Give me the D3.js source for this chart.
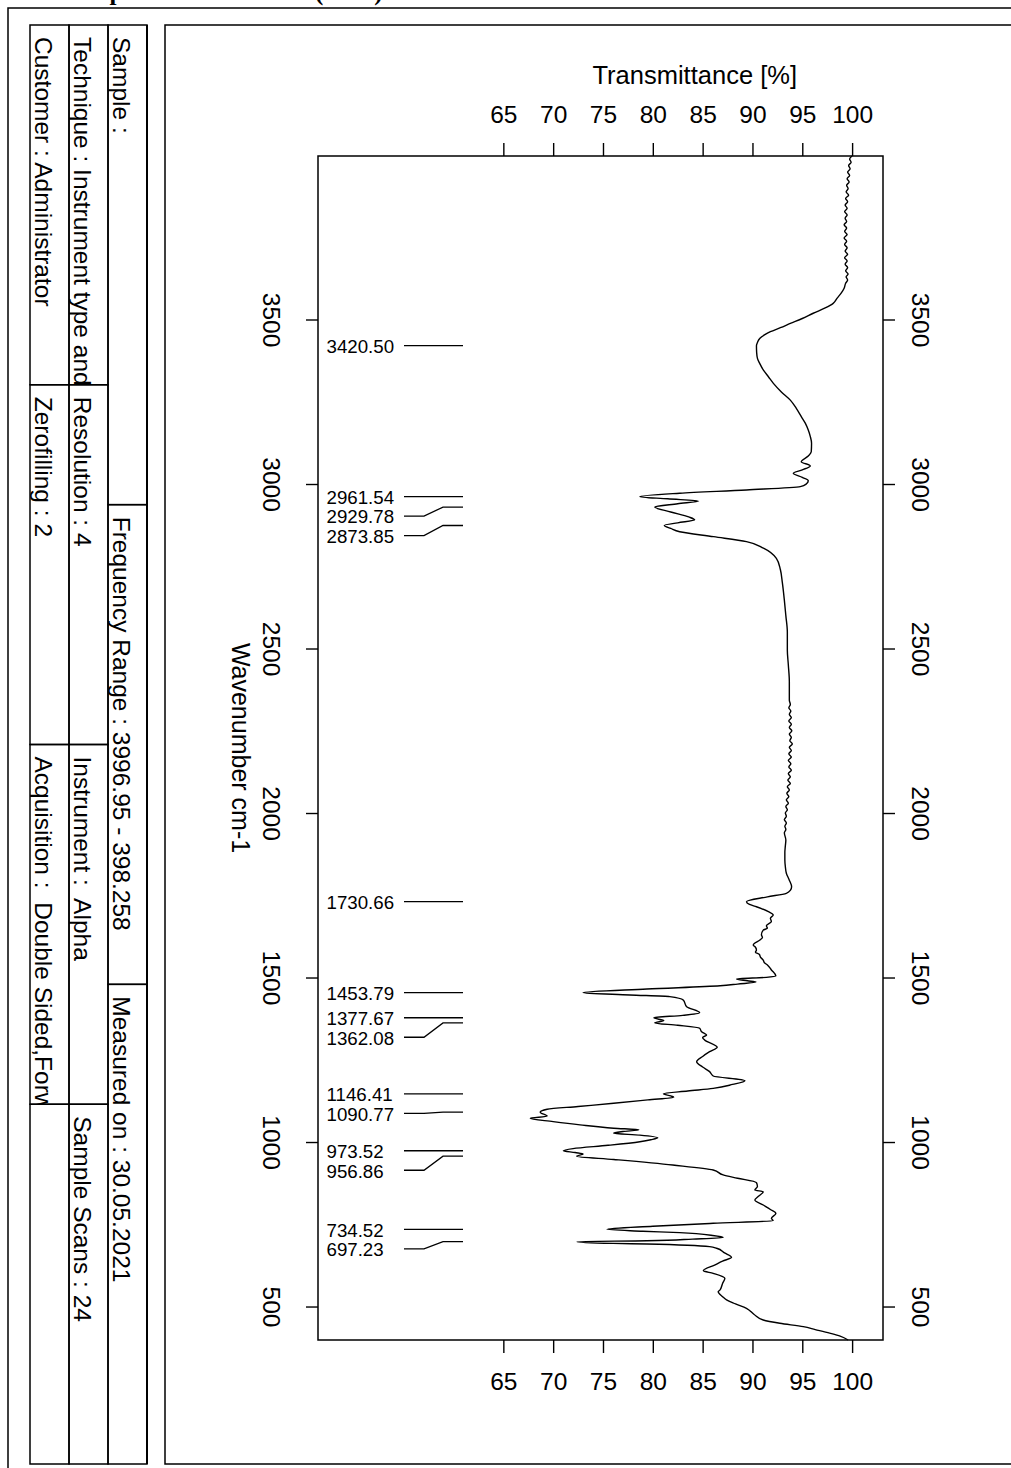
<!DOCTYPE html>
<html>
<head>
<meta charset="utf-8">
<script src="https://cdn.jsdelivr.net/npm/d3@7"></script>
<style>
  body { margin: 0; background: #fff; }
  svg { display: block; font-family: "Liberation Sans", Arial, Helvetica, sans-serif; }
</style>
</head>
<body>
<svg id="chart" width="1011" height="1468"></svg>
<script>
// ---- spectrum readings: [wavenumber cm-1, transmittance %] ----
const spectrumReadings = [
  [3996.95, 100.0], [3988, 99.75], [3978, 99.9], [3968, 99.65], [3958, 99.8], [3948, 99.55],
  [3938, 99.75], [3928, 99.5], [3918, 99.7], [3908, 99.45], [3898, 99.6], [3888, 99.4],
  [3878, 99.65], [3868, 99.35], [3858, 99.55], [3848, 99.3], [3838, 99.5], [3828, 99.25],
  [3818, 99.5], [3808, 99.3], [3798, 99.45], [3788, 99.2], [3778, 99.45], [3768, 99.25],
  [3758, 99.5], [3748, 99.2], [3738, 99.45], [3728, 99.25], [3718, 99.5], [3708, 99.3],
  [3698, 99.55], [3688, 99.25], [3678, 99.5], [3668, 99.3], [3658, 99.55], [3648, 99.35],
  [3638, 99.6], [3630, 99.4], [3620, 99.55], [3610, 99.35], [3595, 99.2], [3580, 98.9],
  [3565, 98.5], [3549, 98.1], [3535, 97.3], [3519, 96.1], [3503, 95.0], [3488, 93.8],
  [3475, 92.8], [3463, 91.8], [3453, 91.2], [3443, 90.75], [3430, 90.5], [3420.5, 90.4],
  [3400, 90.42], [3382, 90.5], [3365, 90.75], [3346, 91.1], [3326, 91.6], [3306, 92.1],
  [3280, 92.9], [3255, 93.8], [3230, 94.4], [3205, 94.9], [3185, 95.3], [3164, 95.6],
  [3145, 95.8], [3124, 95.93], [3098, 95.9], [3085, 95.6], [3068, 94.9], [3055, 95.8],
  [3043, 95.0], [3032.5, 94.1], [3020, 95.0], [3010, 95.6], [3000, 95.4], [2992, 94.8],
  [2982, 89.4], [2972, 82.7], [2961.54, 78.7], [2955, 81.5], [2948, 84.6], [2940, 82.5],
  [2929.78, 80.2], [2915, 81.8], [2900, 83.6], [2891, 84.2], [2882, 82.5], [2873.85, 81.15],
  [2865, 81.8], [2855, 82.7], [2840, 86.1], [2825, 89.4], [2805, 91.1], [2774, 92.4],
  [2740, 92.8], [2700, 93.0], [2647, 93.2], [2600, 93.35], [2550, 93.5], [2495, 93.5],
  [2450, 93.6], [2400, 93.7], [2343, 93.7], [2330, 93.8], [2320, 93.65], [2310, 93.85],
  [2300, 93.7], [2290, 93.9], [2280, 93.65], [2270, 93.9], [2260, 93.7], [2250, 93.95],
  [2240, 93.7], [2230, 93.9], [2220, 93.75], [2210, 94.0], [2200, 93.7], [2190, 93.9],
  [2180, 93.65], [2170, 93.9], [2160, 93.6], [2150, 93.85], [2140, 93.65], [2130, 93.9],
  [2120, 93.6], [2110, 93.8], [2100, 93.55], [2090, 93.8], [2080, 93.5], [2070, 93.7],
  [2060, 93.45], [2050, 93.65], [2040, 93.4], [2030, 93.6], [2020, 93.35], [2010, 93.5],
  [2000, 93.3], [1990, 93.4], [1980, 93.2], [1970, 93.4], [1960, 93.25], [1950, 93.35],
  [1940, 93.2], [1918, 93.35], [1900, 93.3], [1880, 93.25], [1857, 93.25], [1837, 93.3],
  [1817, 93.4], [1796, 93.7], [1776, 93.93], [1765, 93.8], [1756, 93.4], [1745, 91.5],
  [1730.66, 89.4], [1722, 89.7], [1715, 90.4], [1700, 91.6], [1690, 92.08], [1680, 91.8],
  [1670, 91.9], [1657, 91.4], [1650, 91.5], [1644, 91.08], [1630, 90.9], [1622, 91.0],
  [1614, 90.75], [1599, 90.08], [1592, 90.3], [1584, 90.4], [1577, 90.3], [1570, 90.7],
  [1562, 90.8], [1553, 91.08], [1545, 91.2], [1538, 91.5], [1523, 91.9], [1504.6, 92.35],
  [1500.5, 91.4], [1495.5, 88.4], [1490, 89.5], [1486, 90.35], [1480, 88.5], [1475, 86.75],
  [1465, 79.4], [1453.79, 73.0], [1447, 77.7], [1442, 81.7], [1431.6, 83.05], [1411, 83.4],
  [1393, 84.7], [1385, 83.0], [1377.67, 80.1], [1369, 81.1], [1362.08, 80.2], [1355, 82.5],
  [1345.6, 84.7], [1335, 84.9], [1325, 85.4], [1318, 85.0], [1310, 85.2], [1288, 86.46],
  [1274.5, 85.7], [1260, 85.0], [1244, 84.4], [1228, 85.0], [1214, 85.7], [1200.6, 86.06],
  [1186.5, 89.24], [1175, 88.0], [1163, 86.06], [1155, 83.5], [1146.41, 81.06], [1140, 81.8],
  [1136, 82.1], [1128, 79.5], [1117.7, 76.07], [1108, 72.5], [1099.5, 69.4], [1090.77, 68.7],
  [1079, 69.4], [1072, 67.7], [1062, 70.0], [1052, 72.7], [1042, 76.07], [1037, 78.6],
  [1032, 77.0], [1027, 76.07], [1021, 78.7], [1013, 80.5], [1007, 79.8], [1001, 78.7],
  [990, 75.5], [980, 72.0], [973.52, 71.02], [968, 72.2], [963.6, 73.0], [956.86, 72.35],
  [947, 76.07], [930, 82.0], [915, 86.06], [900, 87.06], [890, 88.5], [876.5, 90.4],
  [865, 90.5], [854, 90.24], [849, 91.08], [835, 90.6], [824, 90.24], [808.5, 91.08],
  [795, 91.8], [783, 92.35], [768, 91.9], [761, 92.08], [753, 86.06], [744, 80.0],
  [734.52, 75.4], [729, 79.0], [724.5, 82.7], [716, 86.0], [710, 87.06], [705, 84.0],
  [700, 79.4], [697.23, 72.4], [692, 76.0], [690, 79.4], [682, 85.7], [677, 86.4],
  [663, 87.2], [649.5, 87.9], [638, 87.0], [626, 86.2], [609, 85.07], [601, 86.06],
  [585.7, 87.23], [570, 87.0], [550, 86.73], [545, 86.56], [530, 87.0], [520, 87.4],
  [508, 88.3], [494.5, 89.4], [475, 90.2], [459, 91.08], [449, 92.75], [439, 95.1],
  [430, 96.3], [419, 97.75], [410, 98.8], [398.258, 99.6]
];

// picked peaks (cm-1)
const peakWavenumbers = [3420.50, 2961.54, 2929.78, 2873.85, 1730.66, 1453.79, 1377.67, 1362.08,
  1146.41, 1090.77, 973.52, 956.86, 734.52, 697.23];

const transmittanceTicks = [65, 70, 75, 80, 85, 90, 95, 100];
const wavenumberTicks = [3500, 3000, 2500, 2000, 1500, 1000, 500];

// report header columns, drawn left to right, each cell read top to bottom
const infoColumns = [
  ["Customer : Administrator", "Zerofilling : 2", "Acquisition :\u00a0 Double Sided,Forward-Backward", ""],
  ["Technique : Instrument type and / or accessory", "Resolution : 4", "Instrument :\u00a0 Alpha", "Sample Scans : 24"],
  ["Sample :", "Frequency Range : 3996.95 - 398.258", "Measured on : 30.05.2021"]
];
const reportTitle = "Spectrum Overview (ATR)";

// ---------------------------------------------------------------
const svg = d3.select("#chart");
const W = 1011, H = 1468;
svg.append("rect").attr("width", W).attr("height", H).attr("fill", "#fff");

// title (sits at the very top edge of the sheet)
svg.append("text")
  .attr("x", 95.5).attr("y", -0.5)
  .attr("font-family", "'Liberation Serif', 'Times New Roman', serif")
  .attr("font-weight", "bold").attr("font-size", 25)
  .text(reportTitle);

// outer sheet frame
svg.append("path")
  .attr("d", `M8,${H + 2} V8 H${W + 2}`)
  .attr("fill", "none").attr("stroke", "#000").attr("stroke-width", 1.5);

// ---- header table ----
const table = { left: 30, top: 25, colW: 39, bottom: 1464 };
const tg = svg.append("g");
const defs = svg.append("defs");
infoColumns.forEach((cells, ci) => {
  const x0 = table.left + ci * table.colW;
  const rowH = (table.bottom - table.top) / cells.length;
  cells.forEach((txt, ri) => {
    const y0 = table.top + ri * rowH;
    const id = `cell-${ci}-${ri}`;
    defs.append("clipPath").attr("id", id)
      .append("rect").attr("x", x0).attr("y", y0).attr("width", table.colW).attr("height", rowH);
    tg.append("rect")
      .attr("x", x0).attr("y", y0).attr("width", table.colW).attr("height", rowH)
      .attr("fill", "none").attr("stroke", "#000").attr("stroke-width", 1.5);
    if (txt) {
      tg.append("g").attr("clip-path", `url(#${id})`)
        .append("text")
        .attr("transform", `translate(${x0 + 4.5},${y0 + 12}) rotate(90)`)
        .attr("font-size", 24.5)
        .text(txt);
    }
  });
});
tg.append("line")
  .attr("x1", table.left + 3 * table.colW).attr("x2", table.left + 3 * table.colW)
  .attr("y1", table.top).attr("y2", table.bottom)
  .attr("stroke", "#000").attr("stroke-width", 2);

// chart panel
svg.append("path")
  .attr("d", `M${W + 2},25 H165 V1464 H${W + 2}`)
  .attr("fill", "none").attr("stroke", "#000").attr("stroke-width", 1.5);

// ---- plot ----
const plot = { left: 318, right: 883, top: 156, bottom: 1340 };
const x = d3.scaleLinear().domain([46.4, 103.1]).range([plot.left, plot.right]);
const y = d3.scaleLinear().domain([3996.95, 398.258]).range([plot.top, plot.bottom]);

const tickFont = 24.5;

function styleAxis(g) {
  g.select(".domain").remove();
  g.selectAll(".tick line").attr("stroke", "#000").attr("stroke-width", 1.4);
  g.selectAll(".tick text").attr("font-size", tickFont).attr("fill", "#000")
    .attr("font-family", "'Liberation Sans', Arial, sans-serif");
}

// transmittance axes (top and bottom)
const gTop = svg.append("g").attr("transform", `translate(0,${plot.top})`)
  .call(d3.axisTop(x).tickValues(transmittanceTicks).tickSize(13).tickFormat(d3.format("d")));
styleAxis(gTop);
gTop.selectAll(".tick text").attr("y", -33).attr("dy", null);

const gBot = svg.append("g").attr("transform", `translate(0,${plot.bottom})`)
  .call(d3.axisBottom(x).tickValues(transmittanceTicks).tickSize(13).tickFormat(d3.format("d")));
styleAxis(gBot);
gBot.selectAll(".tick text").attr("y", 50).attr("dy", null);

// wavenumber axes (left and right), labels turned a quarter clockwise
const gLeft = svg.append("g").attr("transform", `translate(${plot.left},0)`)
  .call(d3.axisLeft(y).tickValues(wavenumberTicks).tickSize(12).tickFormat(d3.format("d")));
styleAxis(gLeft);
gLeft.selectAll(".tick text")
  .attr("x", null).attr("dy", null).attr("text-anchor", "middle")
  .attr("transform", "translate(-55,0) rotate(90)");

const gRight = svg.append("g").attr("transform", `translate(${plot.right},0)`)
  .call(d3.axisRight(y).tickValues(wavenumberTicks).tickSize(12).tickFormat(d3.format("d")));
styleAxis(gRight);
gRight.selectAll(".tick text")
  .attr("x", null).attr("dy", null).attr("text-anchor", "middle")
  .attr("transform", "translate(29,0) rotate(90)");

// axis titles
svg.append("text")
  .attr("x", (x(65) + x(100)) / 2 + 17).attr("y", 84)
  .attr("text-anchor", "middle").attr("font-size", 25.5)
  .text("Transmittance [%]");
svg.append("text")
  .attr("transform", `translate(232,${(plot.top + plot.bottom) / 2}) rotate(90)`)
  .attr("text-anchor", "middle").attr("font-size", 25)
  .text("Wavenumber cm-1");

// plot frame
svg.append("rect")
  .attr("x", plot.left).attr("y", plot.top)
  .attr("width", plot.right - plot.left).attr("height", plot.bottom - plot.top)
  .attr("fill", "none").attr("stroke", "#000").attr("stroke-width", 1.5);

// spectrum trace
svg.append("path")
  .datum(spectrumReadings)
  .attr("fill", "none").attr("stroke", "#000").attr("stroke-width", 1.4)
  .attr("stroke-linejoin", "round")
  .attr("d", d3.line().x(d => x(d[1])).y(d => y(d[0])).curve(d3.curveMonotoneY));

// peak labels with leader lines; crowded labels are pushed downward
const labelGap = 19.5;
let prevY = -Infinity;
const pk = svg.append("g");
peakWavenumbers.forEach(w => {
  const py = y(w);
  const ly = Math.max(py, prevY + labelGap);
  prevY = ly;
  pk.append("text")
    .attr("x", 326.5).attr("y", ly + 7.3)
    .attr("font-size", 18.7)
    .text(d3.format(".2f")(w));
  pk.append("path")
    .attr("d", `M404,${ly} H424 L443,${py} H463`)
    .attr("fill", "none").attr("stroke", "#000").attr("stroke-width", 1.3);
});
</script>
</body>
</html>
